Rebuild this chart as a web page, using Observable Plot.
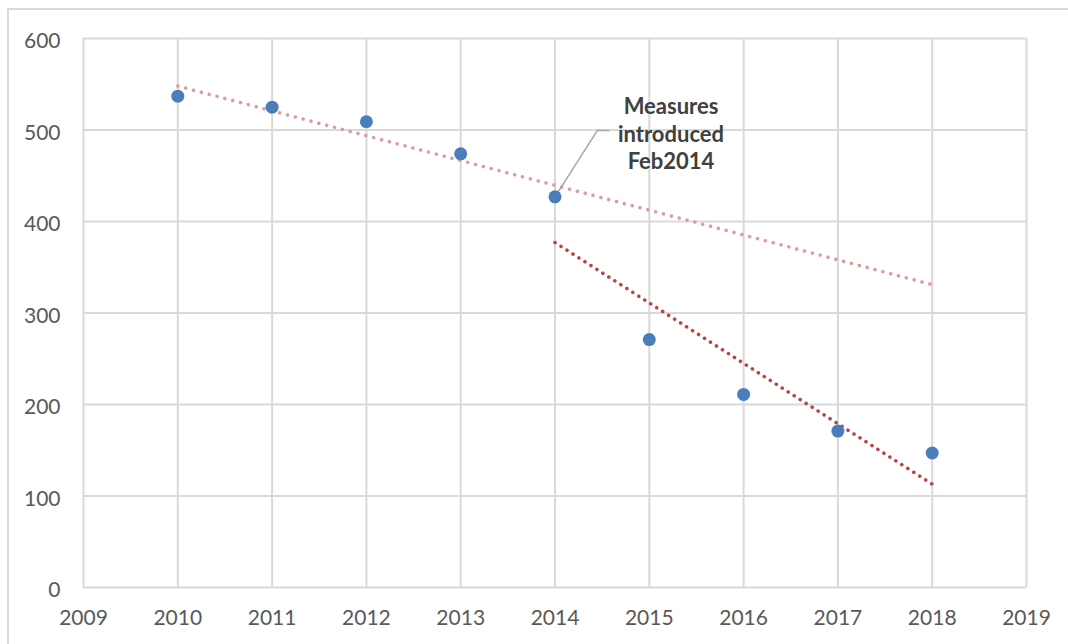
<!DOCTYPE html>
<html>
<head>
<meta charset="utf-8">
<script src="https://cdn.jsdelivr.net/npm/d3@7"></script>
<script src="https://cdn.jsdelivr.net/npm/@observablehq/plot@0.6"></script>
<style>
  html, body { margin: 0; padding: 0; background: #fff; overflow: hidden; }
  #frame { position: absolute; left: 7px; top: 8px; width: 1200px; height: 800px; border: 2px solid #d9d9d9; box-sizing: border-box; }
  #chart { position: absolute; left: 0; top: 0; }
</style>
</head>
<body>
<div id="frame"></div>
<div id="chart"></div>
<script>
const years = [2010, 2011, 2012, 2013, 2014, 2015, 2016, 2017, 2018];
const values = [537, 525, 509, 474, 427, 271, 211, 171, 147];
const xTicks = [2009, 2010, 2011, 2012, 2013, 2014, 2015, 2016, 2017, 2018, 2019];
const yTicks = [0, 100, 200, 300, 400, 500, 600];
// trendline endpoints
const trendBeforeX = [2010, 2018];
const trendBeforeY = [548, 331];
const trendAfterX = [2014, 2018];
const trendAfterY = [377, 113];
// annotation
const noteLabel = "Measures\nintroduced\nFeb2014";
const noteYear = 2014;
const noteValue = 427;
const leaderX = [2014, 2014.45, 2014.57];
const leaderY = [427, 499.5, 499.5];

const points = years.map((x, i) => ({x, y: values[i]}));
const trendA = trendBeforeX.map((x, i) => ({x, y: trendBeforeY[i]}));
const trendB = trendAfterX.map((x, i) => ({x, y: trendAfterY[i]}));
const leader = leaderX.map((x, i) => ({x, y: leaderY[i]}));

const grid = "#d9d9d9";
const chart = Plot.plot({
  width: 1068,
  height: 644,
  marginLeft: 83,
  marginRight: 42,
  marginTop: 38,
  marginBottom: 57,
  style: { fontFamily: "Lato, sans-serif", fontSize: "21px", color: "#595959", background: "transparent" },
  x: { domain: [2009, 2019], ticks: xTicks, tickFormat: d => String(d), label: null },
  y: { domain: [0, 600], ticks: yTicks, label: null },
  marks: [
    Plot.gridX(xTicks, { stroke: grid, strokeOpacity: 1, strokeWidth: 2 }),
    Plot.gridY(yTicks, { stroke: grid, strokeOpacity: 1, strokeWidth: 2 }),
    Plot.axisX(xTicks, { tickFormat: d => String(d), tickSize: 0, tickPadding: 23, fill: "#595959", fontSize: 21 }),
    Plot.axisY(yTicks, { tickSize: 0, tickPadding: 23, dy: 3, fill: "#595959", fontSize: 21 }),
    Plot.line(trendA, { x: "x", y: "y", stroke: "#df9c9b", strokeWidth: 3.5, strokeDasharray: "0.1,8", strokeLinecap: "round" }),
    Plot.line(trendB, { x: "x", y: "y", stroke: "#c0403d", strokeWidth: 3.5, strokeDasharray: "0.1,7", strokeLinecap: "round" }),
    Plot.line(leader, { x: "x", y: "y", stroke: "#a6a6a6", strokeWidth: 1.5 }),
    Plot.dot(points, { x: "x", y: "y", r: 6.5, fill: "#4a7ebb", stroke: "none" }),
    Plot.text([{x: noteYear, y: noteValue, t: noteLabel}], {
      x: "x", y: "y", text: "t", dx: 116, dy: -64, lineAnchor: "middle", textAnchor: "middle",
      lineHeight: 1.25, fontSize: 22, fontWeight: "bold", fill: "#404040"
    })
  ]
});
document.getElementById("chart").appendChild(chart);
</script>
</body>
</html>
